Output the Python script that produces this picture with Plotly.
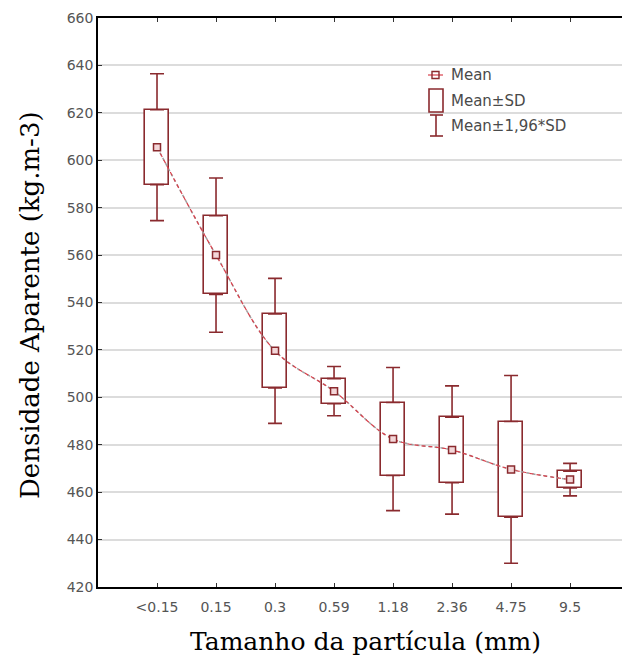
import plotly.graph_objects as go

categories = ["<0.15", "0.15", "0.3", "0.59", "1.18", "2.36", "4.75", "9.5"]
means = [605.5, 560.0, 519.6, 502.6, 482.4, 477.8, 469.6, 465.3]
sds = [15.8, 16.6, 15.6, 5.3, 15.4, 13.8, 20.2, 3.5]
y_ticks = [420, 440, 460, 480, 500, 520, 540, 560, 580, 600, 620, 640, 660]
y_ticktext = [str(v) for v in y_ticks]

W, H = 622, 658
L, R, T, B = 98, 0, 18, 71
PW, PH = W - L - R, H - T - B

BOX = "#8a2a2e"
LINE = "#d8404c"

xs = list(range(len(categories)))
lo_sd = [m - s for m, s in zip(means, sds)]
hi_sd = [m + s for m, s in zip(means, sds)]
ext = [0.96 * s for s in sds]

fig = go.Figure()

# boxes: mean ± SD
fig.add_trace(go.Bar(
    x=xs, y=[2 * s for s in sds], base=lo_sd, width=0.4,
    marker=dict(color="white", line=dict(color=BOX, width=1.6)),
    showlegend=False, hoverinfo="skip"))

# whiskers: mean ± 1.96 SD
fig.add_trace(go.Scatter(
    x=xs, y=hi_sd, mode="markers", marker=dict(size=1, opacity=0),
    error_y=dict(type="data", array=ext, arrayminus=[0] * len(ext),
                 color=BOX, thickness=1.6, width=7),
    showlegend=False, hoverinfo="skip"))
fig.add_trace(go.Scatter(
    x=xs, y=lo_sd, mode="markers", marker=dict(size=1, opacity=0),
    error_y=dict(type="data", array=[0] * len(ext), arrayminus=ext,
                 color=BOX, thickness=1.6, width=7),
    showlegend=False, hoverinfo="skip"))

# fitted lines through the means
fig.add_trace(go.Scatter(
    x=xs, y=means, mode="lines", line=dict(color="#a0a0a0", width=1.5, dash="dot", shape="spline"),
    showlegend=False, hoverinfo="skip"))
fig.add_trace(go.Scatter(
    x=xs, y=means, mode="lines", line=dict(color=LINE, width=1.2, dash="4px,3px", shape="spline"),
    showlegend=False, hoverinfo="skip"))

# mean markers
fig.add_trace(go.Scatter(
    x=xs, y=means, mode="markers",
    marker=dict(symbol="square", size=7, color="#f3d6d8", line=dict(color=BOX, width=1.5)),
    showlegend=False))


def px(xp):
    return (xp - L) / PW


def py(yp):
    return 1 - (yp - T) / PH


shapes = []
# legend: Mean symbol
shapes.append(dict(type="line", xref="paper", yref="paper", x0=px(428), x1=px(443), y0=py(75), y1=py(75),
                   line=dict(color=LINE, width=1.2)))
shapes.append(dict(type="rect", xref="paper", yref="paper", x0=px(432), x1=px(439), y0=py(71.5), y1=py(78.5),
                   line=dict(color=BOX, width=1.4), fillcolor="rgba(0,0,0,0)"))
# legend: box symbol
shapes.append(dict(type="rect", xref="paper", yref="paper", x0=px(429), x1=px(443), y0=py(89), y1=py(112),
                   line=dict(color=BOX, width=1.6), fillcolor="white"))
# legend: whisker symbol
shapes.append(dict(type="line", xref="paper", yref="paper", x0=px(436), x1=px(436), y0=py(115), y1=py(136),
                   line=dict(color=BOX, width=1.6)))
shapes.append(dict(type="line", xref="paper", yref="paper", x0=px(430), x1=px(443), y0=py(115), y1=py(115),
                   line=dict(color=BOX, width=1.6)))
shapes.append(dict(type="line", xref="paper", yref="paper", x0=px(430), x1=px(443), y0=py(136), y1=py(136),
                   line=dict(color=BOX, width=1.6)))

leg_font = dict(family="DejaVu Sans", size=15, color="#4a4a4a")
annotations = [
    dict(text="Mean", xref="paper", yref="paper", x=px(449), y=py(75), xanchor="left", yanchor="middle",
         showarrow=False, font=leg_font),
    dict(text="Mean±SD", xref="paper", yref="paper", x=px(449), y=py(101), xanchor="left", yanchor="middle",
         showarrow=False, font=leg_font),
    dict(text="Mean±1,96*SD", xref="paper", yref="paper", x=px(449), y=py(126), xanchor="left", yanchor="middle",
         showarrow=False, font=leg_font),
    dict(text="Densidade Aparente (kg.m-3)", xref="paper", yref="paper", x=px(30), y=py(305),
         xanchor="center", yanchor="middle", textangle=-90, showarrow=False,
         font=dict(family="DejaVu Serif", size=26, color="black")),
    dict(text="Tamanho da partícula (mm)", xref="paper", yref="paper", x=px(365), y=py(641),
         xanchor="center", yanchor="middle", showarrow=False,
         font=dict(family="DejaVu Serif", size=25, color="black")),
]

tick_font = dict(family="DejaVu Sans", size=14, color="#555555")

fig.update_layout(
    width=W, height=H,
    margin=dict(l=L, r=R, t=T, b=B),
    paper_bgcolor="white", plot_bgcolor="white",
    shapes=shapes, annotations=annotations,
    showlegend=False, bargap=0,
    xaxis=dict(
        range=[-1, 7.88], tickmode="array", tickvals=xs, ticktext=categories,
        showline=True, linecolor="black", linewidth=1.5, mirror="ticks",
        ticks="inside", ticklen=4, tickcolor="#333333",
        showgrid=False, zeroline=False, ticklabelstandoff=6,
        tickfont=tick_font,
    ),
    yaxis=dict(
        range=[420, 660], tickmode="array", tickvals=y_ticks, ticktext=y_ticktext,
        showline=True, linecolor="black", linewidth=1.5,
        ticks="inside", ticklen=4, tickcolor="#333333",
        showgrid=True, gridcolor="#dcdcdc", gridwidth=1.5, zeroline=False,
        tickfont=tick_font,
    ),
)

fig.write_html(
    "out.html",
    config={"displayModeBar": False},
    post_script="document.body.style.margin='0px';document.body.style.overflow='hidden';",
)
